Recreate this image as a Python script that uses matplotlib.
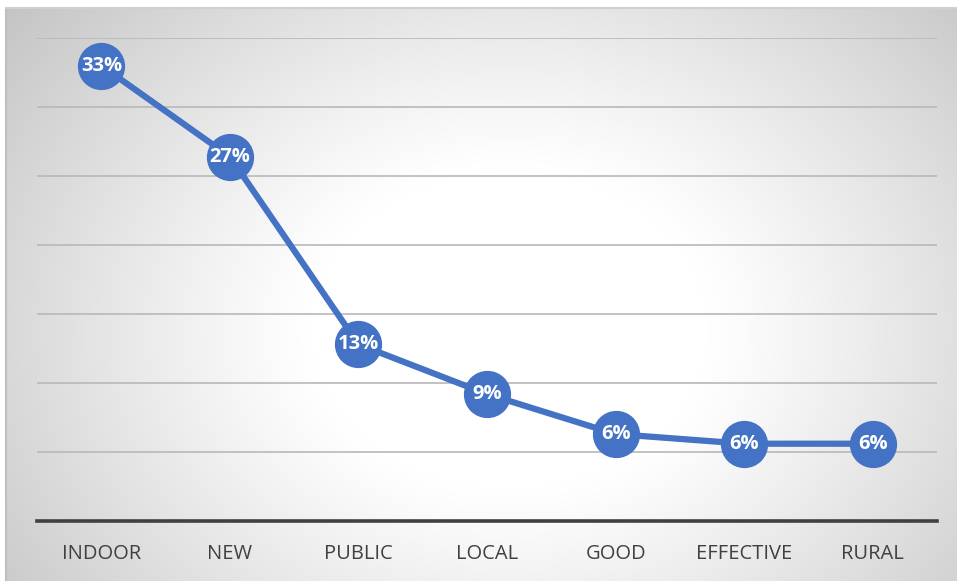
import matplotlib
matplotlib.use("Agg")
import matplotlib.pyplot as plt
import numpy as np

categories = ["INDOOR", "NEW", "PUBLIC", "LOCAL", "GOOD", "EFFECTIVE", "RURAL"]
values = [0.33, 0.264, 0.128, 0.092, 0.063, 0.056, 0.056]
labels = ["33%", "27%", "13%", "9%", "6%", "6%", "6%"]

W, H = 957, 581
fig = plt.figure(figsize=(W / 100, H / 100), dpi=100)
fig.patch.set_facecolor("white")

# background radial gradient panel
bx0, by0 = 6, 8  # pixel offsets (left, top)
bg = fig.add_axes([bx0 / W, 0, 1 - bx0 / W, 1 - by0 / H])
bg.set_axis_off()
nx, ny = 480, 290
xx, yy = np.meshgrid(np.linspace(bx0, W, nx), np.linspace(by0, H, ny))
cx, cy = 510, 330
r = np.sqrt(((xx - cx) / 1.0) ** 2 + ((yy - cy) / 0.8) ** 2)
t = np.clip((r - 200) / 480, 0, 1)
val = 1.0 - 0.25 * t ** 1.1
img = np.dstack([val, val, val])
bg.imshow(img, aspect="auto", extent=[0, 1, 0, 1], origin="upper", interpolation="bilinear")
bg.set_xlim(0, 1)
bg.set_ylim(0, 1)
bg.plot([0, 0], [0, 1], color="#BFBFBF", lw=1.5, transform=bg.transAxes, clip_on=False)
bg.plot([0, 1], [1, 1], color="#D0D0D0", lw=1.5, transform=bg.transAxes, clip_on=False)

# plot area
left, right, top, bottom = 37, 937, 38, 521
ax = fig.add_axes([left / W, 1 - bottom / H, (right - left) / W, (bottom - top) / H])
ax.patch.set_alpha(0)
x = np.arange(len(categories))
ax.set_xlim(-0.5, len(categories) - 0.5)
ax.set_ylim(0, 0.35)
ax.set_yticks(np.arange(0.05, 0.351, 0.05))
ax.yaxis.grid(True, color="#B8B8B8", lw=1.2)
ax.set_axisbelow(True)
ax.tick_params(axis="y", left=False, labelleft=False)
ax.tick_params(axis="x", bottom=False, pad=13, labelsize=14.5, labelcolor="#404040")
ax.set_xticks(x)
ax.set_xticklabels(categories, fontfamily=["Open Sans", "DejaVu Sans"])
for s in ["left", "right", "top"]:
    ax.spines[s].set_visible(False)
ax.spines["bottom"].set_color("#404040")
ax.spines["bottom"].set_linewidth(2.6)

ax.plot(x, values, color="#4472C4", lw=4.5, marker="o", markersize=33,
        markerfacecolor="#4472C4", markeredgecolor="#4472C4", zorder=3, clip_on=False)
for xi, v, lab in zip(x, values, labels):
    ax.text(xi, v, lab, ha="center", va="center", color="white", fontsize=14.5,
            fontweight="bold", fontfamily=["Open Sans", "DejaVu Sans"], zorder=4)

fig.savefig("out.png", dpi=100)
